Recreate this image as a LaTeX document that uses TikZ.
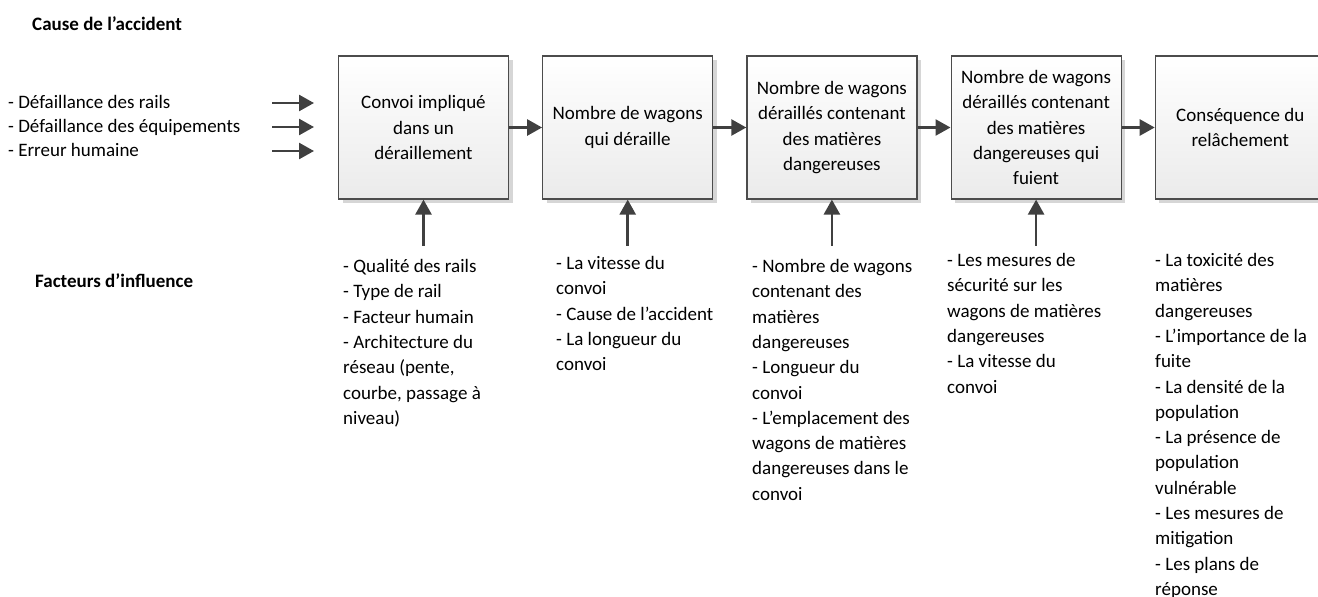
\documentclass[tikz,border=0pt]{standalone}
\usepackage{fontspec}
\setmainfont{Carlito}
\usetikzlibrary{positioning,shadows,arrows.meta}

\newcommand{\texte}{\fontsize{19}{25.3}\selectfont}

\tikzset{
  etape/.style={draw=black!70, line width=1.2pt, top color=white, bottom color=black!8,
    minimum width=170pt, minimum height=143pt, align=center, inner sep=2pt,
    drop shadow={shadow xshift=4pt, shadow yshift=-4pt, fill=black!16, opacity=1}},
  fleche/.style={draw=black!75, line width=2.6pt, -{Triangle[length=15pt,width=16pt]}},
  liste/.style={anchor=base west, align=left, inner sep=0pt},
  titre/.style={anchor=base west, inner sep=0pt, font=\texte\bfseries},
}

\begin{document}
\begin{tikzpicture}[x=1pt,y=-1pt,font=\texte,node distance=33pt]
    \useasboundingbox (0,0) rectangle (1318,597);
    \clip (0,0) rectangle (1318,597);

    % titres
    \node[titre] (t1) at (32,30.5) {Cause de l’accident};
    \node[titre] (t2) at (35,287.5) {Facteurs d’influence};

    % chaine des etapes
    \node[etape] (b1) at (423.5,127.5) {Convoi impliqué\\dans un\\déraillement};
    \node[etape, right=of b1] (b2) {Nombre de wagons\\qui déraille};
    \node[etape, right=of b2] (b3) {Nombre de wagons\\déraillés contenant\\des matières\\dangereuses};
    \node[etape, right=of b3] (b4) {Nombre de wagons\\déraillés contenant\\des matières\\dangereuses qui\\fuient};
    \node[etape, right=of b4] (b5) {Conséquence du\\relâchement};

    \foreach \a/\b in {b1/b2,b2/b3,b3/b4,b4/b5}
        \draw[fleche] (\a) -- (\b);

    % causes
    \node[liste] (d1) at (8,108.5) {- Défaillance des rails};
    \node[liste] (d2) at (8,132.5) {- Défaillance des équipements};
    \node[liste] (d3) at (8,156.5) {- Erreur humaine};
    \foreach \i/\y in {1/103,2/127,3/151}{
        \coordinate (s\i) at (272,\y);
        \coordinate (e\i) at (314,\y);
        \draw[fleche] (s\i) -- (e\i);
    }

    % facteurs d'influence (base = derniere ligne)
    \node[liste] (f1) at (343,424.3) {- Qualité des rails\\- Type de rail\\- Facteur humain\\- Architecture du\\réseau (pente,\\courbe, passage à\\niveau)};
    \node[liste] (f2) at (556,370.7) {- La vitesse du\\convoi\\- Cause de l’accident\\- La longueur du\\convoi};
    \node[liste] (f3) at (752,500.2) {- Nombre de wagons\\contenant des\\matières\\dangereuses\\- Longueur du\\convoi\\- L’emplacement des\\wagons de matières\\dangereuses dans le\\convoi};
    \node[liste] (f4) at (947,393) {- Les mesures de\\sécurité sur les\\wagons de matières\\dangereuses\\- La vitesse du\\convoi};
    \node[liste] (f5) at (1155,595.4) {- La toxicité des\\matières\\dangereuses\\- L’importance de la\\fuite\\- La densité de la\\population\\- La présence de\\population\\vulnérable\\- Les mesures de\\mitigation\\- Les plans de\\réponse};

    \foreach \i in {1,2,3,4}{
        \coordinate (u\i) at ([yshift=-46pt]b\i.south);
        \draw[fleche] (u\i) -- (b\i.south);
    }
\end{tikzpicture}
\end{document}
